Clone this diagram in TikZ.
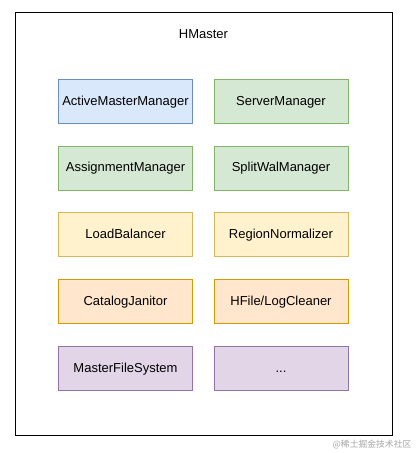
\documentclass[tikz,border=0pt]{standalone}
\usepackage{fontspec}
\setmainfont{Liberation Sans}
\newfontfamily\cjk{Noto Sans CJK SC}

\definecolor{bluefill}{HTML}{DAE8FC}
\definecolor{bluedraw}{HTML}{6C8EBF}
\definecolor{greenfill}{HTML}{D5E8D4}
\definecolor{greendraw}{HTML}{82B366}
\definecolor{yellowfill}{HTML}{FFF2CC}
\definecolor{yellowdraw}{HTML}{D6B656}
\definecolor{orangefill}{HTML}{FFE6CC}
\definecolor{orangedraw}{HTML}{D79B00}
\definecolor{purplefill}{HTML}{E1D5E7}
\definecolor{purpledraw}{HTML}{9673A6}

\begin{document}
\begin{tikzpicture}[x=1pt, y=-1pt,
    modbox/.style={draw, line width=0.8pt, minimum width=134pt, minimum height=44pt,
                   inner sep=0pt, text height=9.5pt, text depth=2.5pt,
                   font=\fontsize{13}{15}\selectfont},
    bluebox/.style={modbox, fill=bluefill, draw=bluedraw},
    greenbox/.style={modbox, fill=greenfill, draw=greendraw},
    yellowbox/.style={modbox, fill=yellowfill, draw=yellowdraw},
    orangebox/.style={modbox, fill=orangefill, draw=orangedraw},
    purplebox/.style={modbox, fill=purplefill, draw=purpledraw}]
    \useasboundingbox (0,0) rectangle (416,453);

    % contenedor HMaster
    \draw[line width=0.9pt] (15,12) rectangle (392,435);
    \node[font=\fontsize{13}{15}\selectfont] (hmaster) at (203.5,34) {HMaster};

    % columna izquierda
    \node[bluebox]   (amm) at (125.5,101.5) {ActiveMasterManager};
    \node[greenbox]  (asm) at (125.5,168)   {AssignmentManager};
    \node[yellowbox] (lb)  at (125.5,234.5) {LoadBalancer};
    \node[orangebox] (cj)  at (125.5,301.5) {CatalogJanitor};
    \node[purplebox] (mfs) at (125.5,368.5) {MasterFileSystem};

    % columna derecha
    \node[greenbox]  (sm)  at (281,101.5) {ServerManager};
    \node[greenbox]  (swm) at (281,168)   {SplitWalManager};
    \node[yellowbox] (rn)  at (281,234.5) {RegionNormalizer};
    \node[orangebox] (hlc) at (281,301.5) {HFile/LogCleaner};
    \node[purplebox] (etc) at (281,368.5) {...};

    % marca de agua
    \node[text=black!35, font=\cjk\fontsize{8.8}{10}\selectfont] (wm) at (372,445) {@稀土掘金技术社区};
\end{tikzpicture}
\end{document}
